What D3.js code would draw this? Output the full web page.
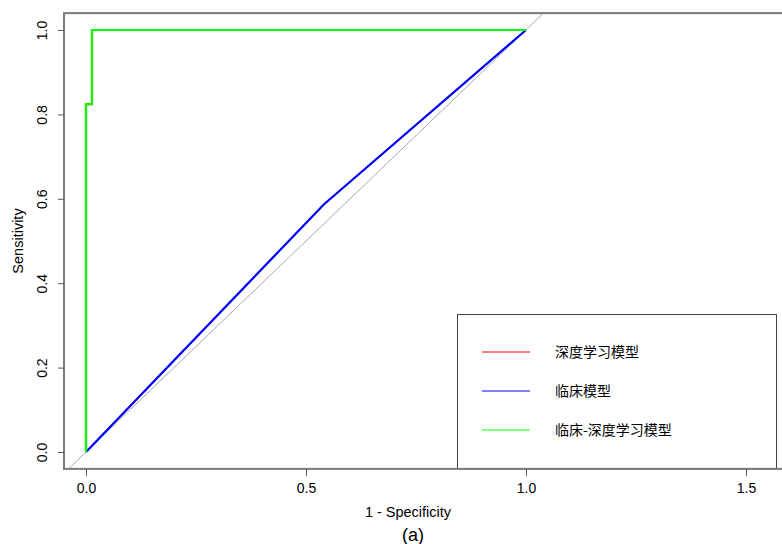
<!DOCTYPE html>
<html>
<head>
<meta charset="utf-8">
<script src="https://cdn.jsdelivr.net/npm/d3@7"></script>
<style>
  body { margin: 0; background: #fff; }
  svg text { font-family: "Liberation Sans", Arial, "Noto Sans CJK SC", sans-serif; fill: #000; }
</style>
</head>
<body>
<svg id="chart" width="782" height="544"></svg>
<script>
'use strict';

// ROC curves (1 - specificity, sensitivity)
const deepFpr = [0, 0, 0.0136, 0.0136, 1];
const deepTpr = [0, 0.824, 0.824, 1, 1];
const clinicalFpr = [0, 0.541, 1];
const clinicalTpr = [0, 0.587, 1];
const comboFpr = [0, 0, 0.0136, 0.0136, 1];
const comboTpr = [0, 0.824, 0.824, 1, 1];

const seriesNames = ['深度学习模型', '临床模型', '临床-深度学习模型'];
const seriesColors = ['#ff0000', '#0000ff', '#00ff00'];

const xTicks = [0, 0.5, 1, 1.5];
const yTicks = [0, 0.2, 0.4, 0.6, 0.8, 1];
const xLimits = [-0.05, 1.65];
const yLimits = [-0.04, 1.04];

const svg = d3.select('#chart');

const x = d3.scaleLinear().domain([0, 1]).range([86, 526]);
const y = d3.scaleLinear().domain([0, 1]).range([452, 30]);

const box = {
  left: x(xLimits[0]),
  right: x(xLimits[1]),
  top: y(yLimits[1]),
  bottom: y(yLimits[0])
};

svg.append('clipPath')
  .attr('id', 'plotClip')
  .append('rect')
  .attr('x', box.left)
  .attr('y', box.top)
  .attr('width', box.right - box.left)
  .attr('height', box.bottom - box.top);

const plot = svg.append('g').attr('clip-path', 'url(#plotClip)');

// reference diagonal
plot.append('line')
  .attr('x1', x(yLimits[0])).attr('y1', y(yLimits[0]))
  .attr('x2', x(yLimits[1])).attr('y2', y(yLimits[1]))
  .attr('stroke', '#a8a8a8')
  .attr('stroke-width', 1);

const toPoints = (xs, ys) => xs.map((v, i) => [v, ys[i]]);
const line = d3.line().x(d => x(d[0])).y(d => y(d[1]));

const curves = [
  toPoints(deepFpr, deepTpr),
  toPoints(clinicalFpr, clinicalTpr),
  toPoints(comboFpr, comboTpr)
];

curves.forEach((pts, i) => {
  plot.append('path')
    .attr('d', line(pts))
    .attr('fill', 'none')
    .attr('stroke', seriesColors[i])
    .attr('stroke-width', 2.2)
    .attr('stroke-linejoin', 'miter');
});

// legend
const legend = svg.append('g');
legend.append('rect')
  .attr('x', 457.5).attr('y', 314.5)
  .attr('width', 319).attr('height', box.bottom - 314.5)
  .attr('fill', '#fff')
  .attr('stroke', '#444')
  .attr('stroke-width', 1);

seriesNames.forEach((name, i) => {
  const rowY = 352 + i * 39;
  legend.append('line')
    .attr('x1', 482).attr('x2', 530)
    .attr('y1', rowY).attr('y2', rowY)
    .attr('stroke', seriesColors[i])
    .attr('stroke-width', 1);
  legend.append('text')
    .attr('x', 555).attr('y', rowY + 5)
    .style('font-size', '14px')
    .style('font-family', '"Noto Sans CJK SC", "Liberation Sans", sans-serif')
    .text(name);
});

// box
svg.append('rect')
  .attr('x', box.left).attr('y', box.top)
  .attr('width', box.right - box.left)
  .attr('height', box.bottom - box.top)
  .attr('fill', 'none')
  .attr('stroke', '#7a7a7a')
  .attr('stroke-width', 2);

// axes
const xAxis = svg.append('g')
  .attr('transform', `translate(0,${box.bottom})`)
  .call(d3.axisBottom(x).tickValues(xTicks).tickFormat(d3.format('.1f')).tickSize(7).tickSizeOuter(0));
xAxis.select('.domain').remove();
xAxis.selectAll('line').attr('stroke', '#555');
xAxis.selectAll('text')
  .attr('y', 24).attr('dy', 0)
  .style('font-size', '14px');

const yAxis = svg.append('g')
  .attr('transform', `translate(${box.left},0)`)
  .call(d3.axisLeft(y).tickValues(yTicks).tickFormat(d3.format('.1f')).tickSize(6).tickSizeOuter(0));
yAxis.select('.domain').remove();
yAxis.selectAll('line').attr('stroke', '#555');
yAxis.selectAll('text')
  .attr('transform', 'rotate(-90)')
  .attr('x', 0).attr('y', -17).attr('dy', 0)
  .attr('text-anchor', 'middle')
  .style('font-size', '14px');

// axis titles
svg.append('text')
  .attr('x', 408).attr('y', 517)
  .attr('text-anchor', 'middle')
  .style('font-size', '14.5px')
  .text('1 - Specificity');

svg.append('text')
  .attr('transform', `translate(23,${(box.top + box.bottom) / 2}) rotate(-90)`)
  .attr('text-anchor', 'middle')
  .style('font-size', '14.5px')
  .text('Sensitivity');

svg.append('text')
  .attr('x', 413).attr('y', 541)
  .attr('text-anchor', 'middle')
  .style('font-size', '18px')
  .text('(a)');
</script>
</body>
</html>
